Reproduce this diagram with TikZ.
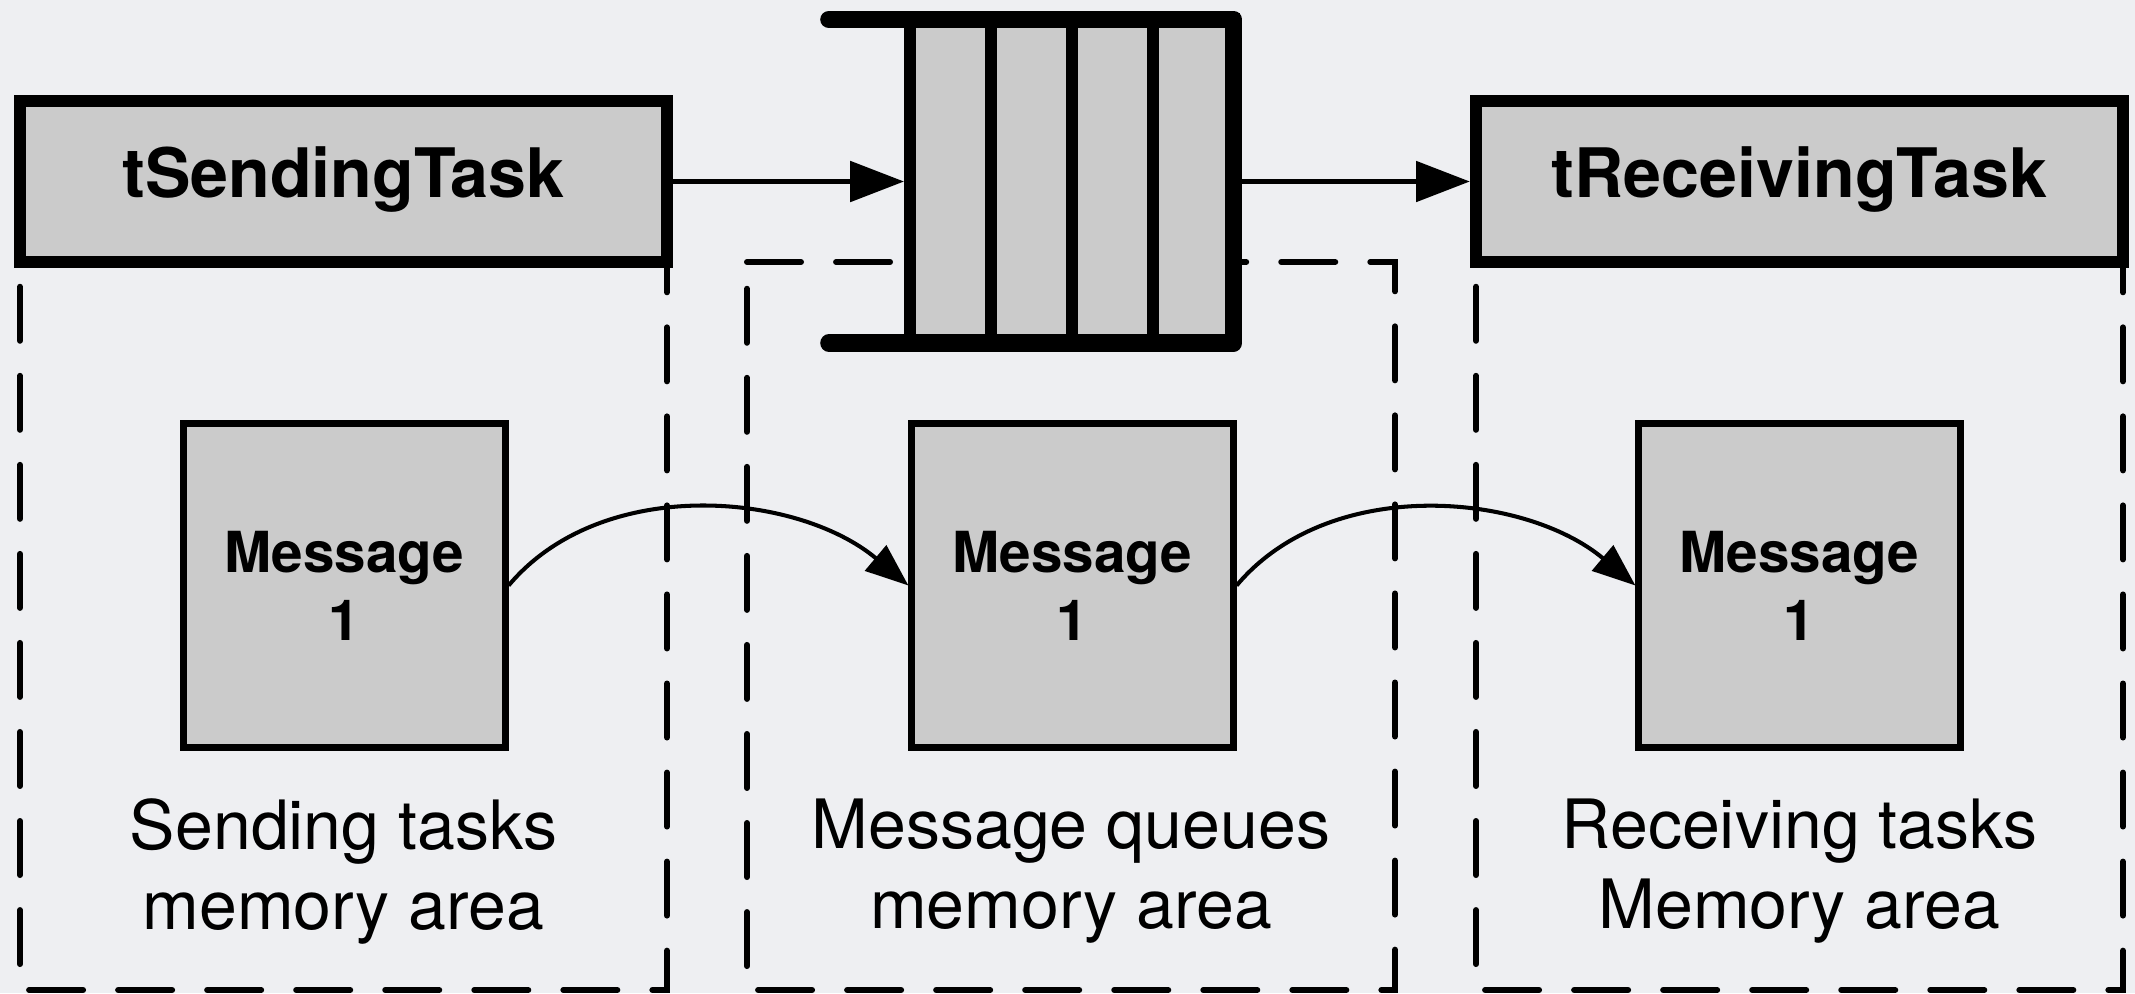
\documentclass[tikz,border=0pt]{standalone}
\usepackage{fontspec}
\setmainfont{TeX Gyre Heros}
\usetikzlibrary{arrows.meta}
\definecolor{bg}{RGB}{238,239,242}
\definecolor{boxgray}{RGB}{203,203,203}

\begin{document}
\begin{tikzpicture}[x=0.01cm, y=-0.01cm,
  taskbox/.style={draw=black, fill=boxgray, line width=3.4pt,
    minimum width=6.47cm, minimum height=1.61cm, inner sep=0pt,
    text height=0.92em, text depth=0pt,
    font=\fontsize{19.4}{23}\selectfont\bfseries},
  msgbox/.style={draw=black, fill=boxgray, line width=2pt,
    minimum width=3.21cm, minimum height=3.23cm, inner sep=0pt, align=center,
    font=\fontsize{16.1}{19.35}\selectfont\bfseries},
  cell/.style={draw=black, fill=boxgray, line width=3.4pt,
    minimum width=0.81cm, minimum height=3.235cm, inner sep=0pt},
  qbar/.style={line width=5pt, line cap=round, line join=round},
  region/.style={line width=1.7pt, line cap=round,
    dash pattern=on 15.36pt off 9.96pt},
  area/.style={align=center, anchor=north, inner sep=0pt,
    font=\fontsize{19.35}{22.76}\selectfont},
  flow/.style={line width=1.4pt, -{Triangle[length=15.3pt, width=11.4pt]}},
  hop/.style={line width=1.15pt, -{Triangle[length=12.2pt, width=9.3pt]}},
]
% canvas
\useasboundingbox (0,0) rectangle (2135,993);
\fill[bg] (0,0) rectangle (2135,993);

% memory areas
\draw[region] (20,262) -- (667,262) -- (667,990) -- (20,990) -- cycle;
\draw[region] (747,262) -- (1395,262) -- (1395,990) -- (747,990) -- cycle;
\draw[region] (1476,262) -- (2123,262) -- (2123,990) -- (1476,990) -- cycle;

% message queue: four slots between two rails
\node[cell] (c1) at (950.5,181.25) {};
\node[cell] (c2) at (1031.5,181.25) {};
\node[cell] (c3) at (1112.5,181.25) {};
\node[cell] (c4) at (1193.5,181.25) {};
\draw[qbar] (829,19.5) -- (1233.5,19.5) -- (1233.5,343) -- (829,343);

% tasks
\node[taskbox] (ts) at (343.5,181.5) {tSendingTask};
\node[taskbox] (tr) at (1799.5,181.5) {tReceivingTask};

% messages
\node[msgbox] (m1) at (344.5,585.5) {Message\\1};
\node[msgbox] (m2) at (1072.5,585.5) {Message\\1};
\node[msgbox] (m3) at (1799.5,585.5) {Message\\1};

% area captions
\node[area] (l1) at (343.5,798) {Sending tasks\\memory area};
\node[area] (l2) at (1071,798) {Message queues\\memory area};
\node[area] (l3) at (1799.5,798) {Receiving tasks\\Memory area};

% connectors
\draw[flow] (ts.east) -- (ts.east -| c1.west);
\draw[flow] (c4.east |- tr.west) -- (tr.west);
\draw[hop] (m1.east) to[out=50, in=140, looseness=0.93] (m2.west);
\draw[hop] (m2.east) to[out=50, in=140, looseness=0.93] (m3.west);
\end{tikzpicture}
\end{document}
